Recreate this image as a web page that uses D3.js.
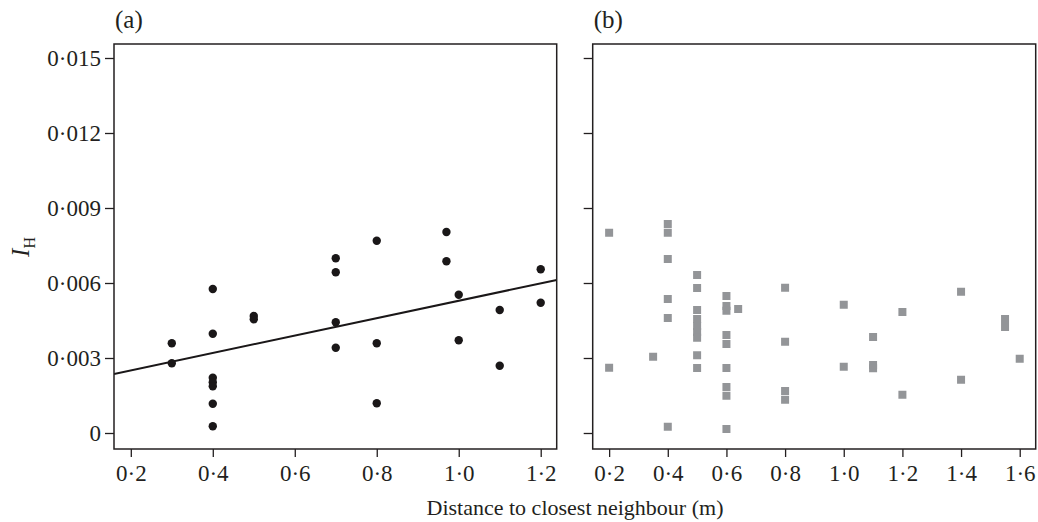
<!DOCTYPE html>
<html>
<head>
<meta charset="utf-8">
<script src="https://cdn.jsdelivr.net/npm/d3@7"></script>
<style>
  body { margin: 0; background: #fff; }
  svg text { font-family: "Liberation Serif", "Times New Roman", serif; fill: #231f20; }
  .axis line { stroke: #231f20; stroke-width: 1.3; }
  .axis path { display: none; }
</style>
</head>
<body>
<div id="chart"></div>
<script>
// panel (a): distance vs I_H, black dots
var aDist = [0.3, 0.3,
  0.4, 0.4, 0.4, 0.4, 0.4, 0.4, 0.4,
  0.5, 0.5,
  0.7, 0.7, 0.7, 0.7,
  0.8, 0.8, 0.8,
  0.97, 0.97,
  1.0, 1.0,
  1.1, 1.1,
  1.2, 1.2];
var aIH = [0.00359, 0.00279,
  0.00576, 0.00397, 0.00221, 0.00203, 0.00187, 0.00117, 0.00027,
  0.00468, 0.00455,
  0.00699, 0.00643, 0.00443, 0.00341,
  0.00769, 0.00359, 0.00119,
  0.00804, 0.00687,
  0.00553, 0.00371,
  0.00492, 0.00269,
  0.00655, 0.00521];

// fitted line in panel (a)
var fitIntercept = 0.00181;
var fitSlope = 0.00348;

// panel (b): grey squares
var bDist = [0.2, 0.2,
  0.35,
  0.4, 0.4, 0.4, 0.4, 0.4, 0.4,
  0.5, 0.5, 0.5, 0.5, 0.5, 0.5, 0.5, 0.5, 0.5,
  0.6, 0.6, 0.6, 0.6, 0.6, 0.6, 0.6, 0.6, 0.6,
  0.64,
  0.8, 0.8, 0.8, 0.8,
  1.0, 1.0,
  1.1, 1.1, 1.1,
  1.2, 1.2,
  1.4, 1.4,
  1.55, 1.55,
  1.6];
var bIH = [0.00801, 0.00261,
  0.00305,
  0.00836, 0.00801, 0.00696, 0.00536, 0.00460, 0.00025,
  0.00632, 0.00580, 0.00492, 0.00456, 0.00428, 0.00404, 0.00381, 0.00311, 0.00260,
  0.00548, 0.00508, 0.00489, 0.00392, 0.00356, 0.00260, 0.00184, 0.00149, 0.00016,
  0.00496,
  0.00581, 0.00365, 0.00168, 0.00133,
  0.00513, 0.00265,
  0.00384, 0.00272, 0.00259,
  0.00484, 0.00153,
  0.00565, 0.00213,
  0.00456, 0.00424,
  0.00297];

var yTicks = [0, 0.003, 0.006, 0.009, 0.012, 0.015];
var aXTicks = [0.2, 0.4, 0.6, 0.8, 1.0, 1.2];
var bXTicks = [0.2, 0.4, 0.6, 0.8, 1.0, 1.2, 1.4, 1.6];

var W = 1038, H = 522;
var top_ = 44, bottom = 449;

var svg = d3.select("#chart").append("svg")
  .attr("width", W).attr("height", H);

var y = d3.scaleLinear().domain([-0.00064, 0.01556]).range([bottom, top_]);
var xa = d3.scaleLinear().domain([0.159, 1.239]).range([114, 556.7]);
var xb = d3.scaleLinear().domain([0.144, 1.6545]).range([592.7, 1035.7]);

function dotFmt(d) {
  return d === 0 ? "0" : d3.format(".3f")(d).replace(".", "\u00b7");
}
function xFmt(d) {
  return d3.format(".1f")(d).replace(".", "\u00b7");
}

function drawPanel(x, xTicks, showYLabels, tag, clipId) {
  var x0 = x.range()[0], x1 = x.range()[1];

  svg.append("clipPath").attr("id", clipId)
    .append("rect")
    .attr("x", x0).attr("y", top_)
    .attr("width", x1 - x0).attr("height", bottom - top_);

  var yAxis = d3.axisLeft(y).tickValues(yTicks).tickSize(9).tickPadding(4)
    .tickFormat(showYLabels ? dotFmt : "");
  svg.append("g").attr("class", "axis")
    .attr("transform", "translate(" + x0 + ",0)")
    .call(yAxis)
    .selectAll("text").style("font-size", "23px");

  var xAxis = d3.axisBottom(x).tickValues(xTicks).tickSize(8).tickPadding(8)
    .tickFormat(xFmt);
  svg.append("g").attr("class", "axis")
    .attr("transform", "translate(0," + bottom + ")")
    .call(xAxis)
    .selectAll("text").style("font-size", "23px");

  svg.append("text")
    .attr("x", x0 + 1).attr("y", 28)
    .style("font-size", "25px")
    .text(tag);

  return svg.append("g").attr("clip-path", "url(#" + clipId + ")");
}

// panel a
var ga = drawPanel(xa, aXTicks, true, "(a)", "clipA");
ga.selectAll("circle")
  .data(d3.range(aDist.length))
  .enter().append("circle")
  .attr("cx", function(i) { return xa(aDist[i]); })
  .attr("cy", function(i) { return y(aIH[i]); })
  .attr("r", 4.2)
  .attr("fill", "#1a1718");

var fitLine = d3.line()
  .x(function(d) { return xa(d); })
  .y(function(d) { return y(fitIntercept + fitSlope * d); });
ga.append("path")
  .datum(xa.domain())
  .attr("d", fitLine)
  .attr("fill", "none")
  .attr("stroke", "#1a1718")
  .attr("stroke-width", 2);

// panel b
var gb = drawPanel(xb, bXTicks, false, "(b)", "clipB");
var sq = 8;
gb.selectAll("rect.pt")
  .data(d3.range(bDist.length))
  .enter().append("rect")
  .attr("class", "pt")
  .attr("x", function(i) { return xb(bDist[i]) - sq / 2; })
  .attr("y", function(i) { return y(bIH[i]) - sq / 2; })
  .attr("width", sq).attr("height", sq)
  .attr("fill", "#939598");

// frames
[xa, xb].forEach(function(x) {
  svg.append("rect")
    .attr("x", x.range()[0]).attr("y", top_)
    .attr("width", x.range()[1] - x.range()[0])
    .attr("height", bottom - top_)
    .attr("fill", "none")
    .attr("stroke", "#231f20")
    .attr("stroke-width", 1.5);
});

// axis titles
var yl = svg.append("text")
  .attr("transform", "translate(29,247) rotate(-90)")
  .attr("text-anchor", "middle")
  .style("font-size", "25px");
yl.append("tspan").style("font-style", "italic").text("I");
yl.append("tspan").attr("dy", 6).style("font-size", "16px").text("H");

svg.append("text")
  .attr("x", 575).attr("y", 515)
  .attr("text-anchor", "middle")
  .style("font-size", "22px")
  .text("Distance to closest neighbour (m)");
</script>
</body>
</html>
